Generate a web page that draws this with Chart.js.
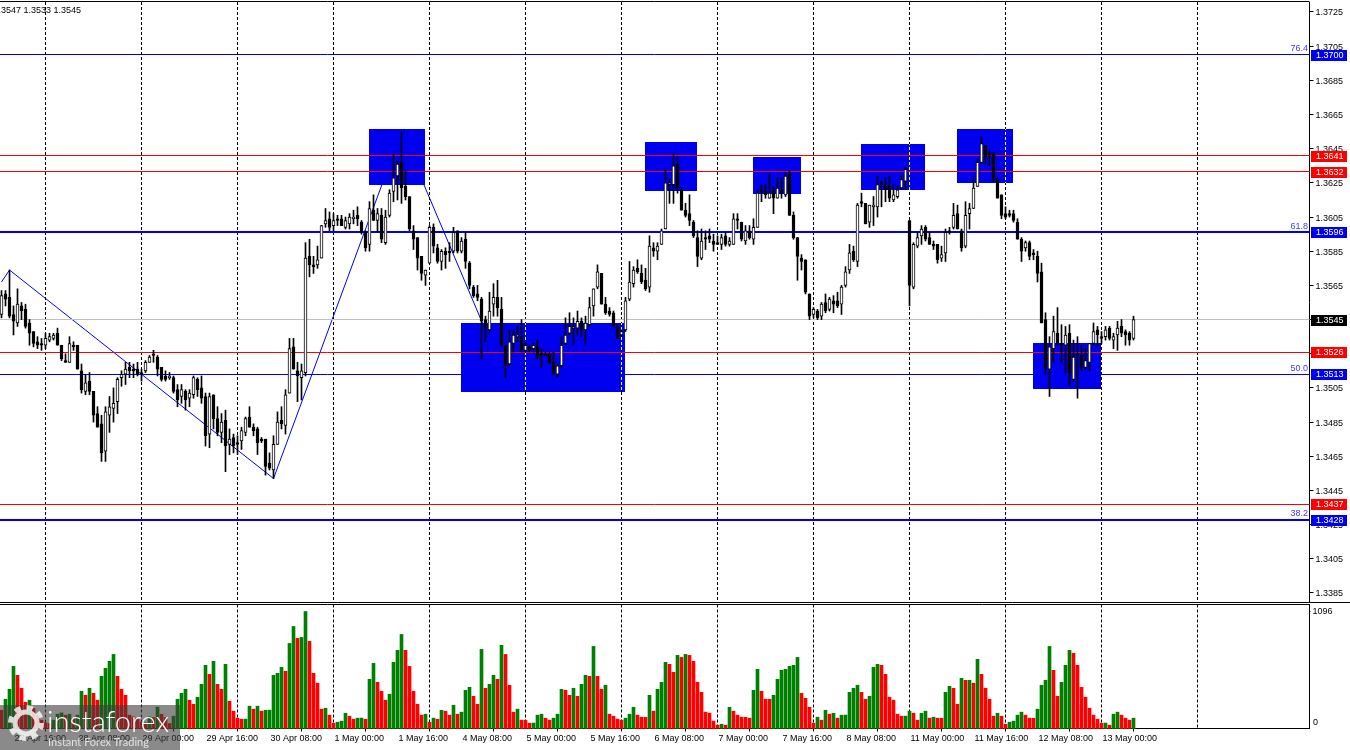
<!DOCTYPE html>
<html>
<head>
<meta charset="utf-8">
<title>GBP/USD H1</title>
<script src="https://cdn.jsdelivr.net/npm/chart.js@4"></script>
<style>
    html, body { margin: 0; padding: 0; background: #fff; overflow: hidden; }
    canvas { position: absolute; left: 0; }
    #price { top: 0; }
    #volume { top: 603px; }
    #logo {
        position: absolute; left: 0; top: 705px; width: 180px; height: 45px;
        background: rgba(60, 60, 60, 0.6); color: #fff; overflow: hidden;
        font-family: "Lato", "Open Sans", sans-serif;
    }
    #logo svg { position: absolute; left: 6px; top: -2px; opacity: 0.8; }
    #logo .big { position: absolute; left: 47px; top: -1px; font-size: 29px; font-weight: 300; line-height: 34px; }
    #logo .small { position: absolute; left: 48px; top: 30px; font-size: 11px; line-height: 14px; opacity: 0.75; }
</style>
</head>
<body>
<canvas id="price" width="1350" height="603"></canvas>
<canvas id="volume" width="1350" height="147"></canvas>
<div id="logo">
    <svg width="40" height="40" viewBox="0 0 40 40">
        <circle cx="20" cy="20" r="15" fill="none" stroke="#fff" stroke-width="6" stroke-dasharray="6 5.8"></circle>
        <circle cx="20" cy="20" r="11" fill="none" stroke="#fff" stroke-width="5"></circle>
    </svg>
    <div class="big">instaforex</div>
    <div class="small">Instant Forex Trading</div>
</div>
<script>
// Candles, one per bar from the left edge of the chart
const opens = [
    1.3548,1.3560,1.3558,1.3548,1.3543,1.3553,1.3551,1.3543,1.3538,1.3532,
    1.3531,1.3530,1.3533,1.3534,1.3537,1.3530,1.3521,1.3520,1.3530,1.3530,
    1.3515,1.3503,1.3509,1.3503,1.3490,1.3484,1.3468,1.3489,1.3493,1.3497,
    1.3511,1.3513,1.3517,1.3516,1.3516,1.3514,1.3515,1.3520,1.3525,1.3523,
    1.3517,1.3512,1.3511,1.3511,1.3504,1.3500,1.3503,1.3499,1.3501,1.3510,
    1.3505,1.3500,1.3478,1.3501,1.3487,1.3479,1.3486,1.3472,1.3476,1.3473,
    1.3474,1.3479,1.3488,1.3482,1.3481,1.3475,1.3475,1.3461,1.3457,1.3472,
    1.3486,1.3483,1.3502,1.3529,1.3515,1.3511,1.3514,1.3582,1.3577,1.3577,
    1.3581,1.3601,1.3604,1.3600,1.3604,
    1.3604,1.3599,1.3601,1.3604,1.3606,1.3602,1.3596,1.3589,1.3609,1.3603,
    1.3606,1.3590,1.3606,1.3620,1.3629,1.3637,1.3623,1.3617,1.3597,1.3593,
    1.3582,1.3571,1.3578,1.3599,1.3587,1.3579,1.3585,1.3585,1.3585,1.3597,
    1.3585,1.3592,1.3578,1.3564,1.3560,1.3557,1.3545,1.3539,1.3554,1.3558,
    1.3551,1.3530,1.3519,1.3531,1.3535,1.3535,1.3527,1.3529,1.3528,1.3529,
    1.3525,1.3525,1.3525,1.3520,1.3513,1.3518,1.3531,1.3537,1.3540,1.3540,
    1.3544,1.3539,1.3542,1.3553,1.3564,1.3572,1.3554,1.3550,1.3549,1.3541,
    1.3536,1.3539,1.3557,1.3566,1.3575,1.3572,1.3568,1.3564,1.3587,1.3585,
    1.3589,1.3598,1.3624,1.3624,1.3636,
    1.3621,1.3609,1.3607,1.3602,1.3593,1.3581,1.3593,1.3594,1.3591,1.3590,
    1.3589,1.3594,1.3589,1.3589,1.3604,1.3602,1.3591,1.3597,1.3592,1.3599,
    1.3621,1.3620,1.3616,1.3620,1.3616,1.3621,1.3618,1.3630,1.3606,1.3593,
    1.3581,1.3580,1.3560,1.3548,1.3550,1.3547,1.3555,1.3551,1.3556,1.3556,
    1.3554,1.3565,1.3574,1.3585,1.3579,1.3614,1.3613,1.3602,1.3611,1.3611,
    1.3625,1.3623,1.3623,1.3615,1.3617,1.3622,1.3626,1.3603,1.3564,1.3588,
    1.3594,1.3599,1.3593,1.3589,1.3589,1.3581,1.3584,1.3597,1.3599,1.3607,
    1.3597,1.3588,1.3607,1.3610,1.3623,1.3637,1.3647,1.3642,1.3642,1.3627,1.3618,
    1.3607,1.3607,1.3607,1.3602,1.3592,1.3587,1.3590,1.3584,1.3582,1.3573,
    1.3545,1.3516,1.3528,1.3537,1.3531,1.3530,1.3537,1.3510,1.3525,1.3524,
    1.3517,1.3520,1.3531,1.3539,1.3535,1.3535,1.3540,1.3533,1.3536,1.3541,
    1.3538,1.3537,1.3534
];
const highs = [
    1.3562,1.3562,1.3574,1.3553,1.3563,1.3555,1.3554,1.3545,1.3538,1.3535,
    1.3534,1.3537,1.3537,1.3537,1.3540,1.3530,1.3525,1.3535,1.3532,1.3530,
    1.3519,1.3513,1.3514,1.3503,1.3494,1.3489,1.3494,1.3500,1.3505,1.3511,
    1.3515,1.3520,1.3520,1.3519,1.3520,1.3516,1.3521,1.3524,1.3527,1.3524,
    1.3517,1.3515,1.3514,1.3512,1.3507,1.3507,1.3504,1.3504,1.3512,1.3511,
    1.3512,1.3502,1.3502,1.3501,1.3494,1.3490,1.3492,1.3481,1.3478,1.3477,
    1.3482,1.3488,1.3494,1.3484,1.3482,1.3476,1.3475,1.3467,1.3477,1.3491,
    1.3494,1.3504,1.3534,1.3534,1.3520,1.3519,1.3590,1.3592,1.3582,1.3588,
    1.3600,1.3610,1.3608,1.3607,1.3606,
    1.3606,1.3605,1.3607,1.3609,1.3611,1.3603,1.3597,1.3614,1.3618,1.3610,
    1.3610,1.3609,1.3621,1.3642,1.3638,1.3655,1.3632,1.3617,1.3600,1.3593,
    1.3582,1.3574,1.3600,1.3601,1.3589,1.3586,1.3587,1.3590,1.3599,1.3597,
    1.3593,1.3596,1.3579,1.3565,1.3565,1.3558,1.3547,1.3561,1.3566,1.3568,
    1.3558,1.3530,1.3539,1.3539,1.3541,1.3545,1.3532,1.3530,1.3531,1.3533,
    1.3528,1.3526,1.3526,1.3526,1.3519,1.3535,1.3546,1.3549,1.3546,1.3550,
    1.3546,1.3547,1.3558,1.3563,1.3577,1.3572,1.3558,1.3552,1.3550,1.3542,
    1.3539,1.3558,1.3579,1.3576,1.3580,1.3577,1.3575,1.3594,1.3590,1.3590,
    1.3598,1.3633,1.3627,1.3642,1.3640,
    1.3622,1.3613,1.3618,1.3603,1.3597,1.3598,1.3597,1.3598,1.3595,1.3594,
    1.3595,1.3596,1.3593,1.3607,1.3607,1.3602,1.3600,1.3600,1.3604,1.3621,
    1.3624,1.3624,1.3630,1.3623,1.3628,1.3628,1.3631,1.3632,1.3608,1.3593,
    1.3583,1.3580,1.3560,1.3552,1.3551,1.3555,1.3560,1.3558,1.3559,1.3561,
    1.3565,1.3576,1.3589,1.3588,1.3613,1.3619,1.3613,1.3612,1.3617,1.3629,
    1.3626,1.3628,1.3629,1.3624,1.3623,1.3629,1.3634,1.3603,1.3590,1.3596,
    1.3600,1.3600,1.3596,1.3591,1.3589,1.3588,1.3598,1.3599,1.3613,1.3612,
    1.3598,1.3614,1.3613,1.3628,1.3639,1.3652,1.3647,1.3644,1.3643,1.3628,1.3618,
    1.3611,1.3609,1.3609,1.3604,1.3593,1.3591,1.3591,1.3586,1.3585,1.3578,
    1.3549,1.3535,1.3547,1.3552,1.3542,1.3541,1.3542,1.3533,1.3535,1.3530,
    1.3528,1.3531,1.3543,1.3541,1.3538,1.3541,1.3541,1.3537,1.3544,1.3545,
    1.3539,1.3538,1.3547
];
const lows = [
    1.3546,1.3553,1.3546,1.3536,1.3541,1.3545,1.3540,1.3530,1.3529,1.3528,
    1.3527,1.3528,1.3532,1.3533,1.3530,1.3521,1.3520,1.3520,1.3527,1.3516,
    1.3502,1.3501,1.3501,1.3485,1.3482,1.3462,1.3462,1.3479,1.3485,1.3490,
    1.3506,1.3507,1.3511,1.3511,1.3512,1.3509,1.3514,1.3520,1.3520,1.3512,
    1.3509,1.3509,1.3510,1.3502,1.3494,1.3496,1.3492,1.3494,1.3499,1.3500,
    1.3496,1.3471,1.3470,1.3481,1.3477,1.3473,1.3456,1.3466,1.3467,1.3466,
    1.3469,1.3477,1.3482,1.3477,1.3466,1.3473,1.3454,1.3457,1.3452,1.3472,
    1.3481,1.3478,1.3502,1.3516,1.3497,1.3498,1.3512,1.3570,1.3572,1.3575,
    1.3581,1.3599,1.3597,1.3597,1.3600,
    1.3600,1.3598,1.3598,1.3601,1.3600,1.3595,1.3585,1.3585,1.3603,1.3596,
    1.3590,1.3589,1.3605,1.3614,1.3615,1.3613,1.3615,1.3597,1.3586,1.3574,
    1.3568,1.3565,1.3578,1.3584,1.3578,1.3574,1.3575,1.3579,1.3584,1.3584,
    1.3584,1.3575,1.3563,1.3558,1.3556,1.3522,1.3532,1.3537,1.3547,1.3547,
    1.3529,1.3511,1.3518,1.3526,1.3532,1.3526,1.3526,1.3526,1.3526,1.3522,
    1.3517,1.3524,1.3519,1.3513,1.3511,1.3517,1.3530,1.3536,1.3530,1.3536,
    1.3535,1.3530,1.3541,1.3547,1.3563,1.3554,1.3548,1.3547,1.3541,1.3534,
    1.3535,1.3538,1.3556,1.3564,1.3572,1.3566,1.3562,1.3561,1.3582,1.3580,
    1.3589,1.3598,1.3613,1.3613,1.3619,
    1.3609,1.3605,1.3600,1.3593,1.3576,1.3580,1.3586,1.3590,1.3585,1.3589,
    1.3586,1.3588,1.3588,1.3589,1.3598,1.3591,1.3589,1.3592,1.3589,1.3599,
    1.3614,1.3616,1.3616,1.3607,1.3616,1.3616,1.3617,1.3606,1.3592,1.3568,
    1.3574,1.3560,1.3545,1.3546,1.3545,1.3545,1.3549,1.3550,1.3549,1.3552,
    1.3548,1.3564,1.3572,1.3579,1.3576,1.3611,1.3601,1.3599,1.3600,1.3605,
    1.3611,1.3614,1.3614,1.3614,1.3616,1.3621,1.3621,1.3553,1.3563,1.3587,
    1.3589,1.3591,1.3589,1.3586,1.3578,1.3579,1.3579,1.3595,1.3598,1.3598,
    1.3585,1.3587,1.3598,1.3610,1.3623,1.3637,1.3636,1.3635,1.3626,1.3616,1.3604,
    1.3604,1.3605,1.3602,1.3592,1.3579,1.3585,1.3580,1.3580,1.3567,1.3543,
    1.3513,1.3500,1.3520,1.3530,1.3520,1.3514,1.3506,1.3509,1.3499,1.3515,
    1.3516,1.3515,1.3530,1.3529,1.3531,1.3533,1.3533,1.3528,1.3527,1.3535,
    1.3530,1.3530,1.3533
];
const closes = [
    1.3559,1.3557,1.3547,1.3544,1.3554,1.3550,1.3541,1.3537,1.3531,1.3530,
    1.3530,1.3534,1.3535,1.3536,1.3530,1.3522,1.3520,1.3531,1.3529,1.3516,
    1.3504,1.3508,1.3503,1.3489,1.3482,1.3467,1.3491,1.3494,1.3496,1.3510,
    1.3513,1.3516,1.3515,1.3515,1.3513,1.3513,1.3520,1.3523,1.3524,1.3516,
    1.3510,1.3510,1.3512,1.3503,1.3498,1.3504,1.3498,1.3502,1.3511,1.3504,
    1.3499,1.3477,1.3500,1.3487,1.3479,1.3485,1.3471,1.3475,1.3471,1.3472,
    1.3480,1.3487,1.3482,1.3480,1.3473,1.3474,1.3459,1.3458,1.3472,1.3485,
    1.3484,1.3501,1.3528,1.3516,1.3512,1.3515,1.3581,1.3577,1.3576,1.3580,
    1.3600,1.3603,1.3599,1.3603,1.3603,
    1.3600,1.3603,1.3605,1.3605,1.3604,1.3596,1.3587,1.3610,1.3603,1.3607,
    1.3592,1.3605,1.3619,1.3628,1.3636,1.3622,1.3617,1.3598,1.3592,1.3581,
    1.3572,1.3574,1.3599,1.3588,1.3579,1.3585,1.3583,1.3584,1.3596,1.3585,
    1.3591,1.3579,1.3565,1.3559,1.3558,1.3544,1.3540,1.3550,1.3558,1.3552,
    1.3530,1.3518,1.3532,1.3536,1.3536,1.3527,1.3530,1.3527,1.3530,1.3523,
    1.3524,1.3524,1.3520,1.3513,1.3518,1.3530,1.3536,1.3541,1.3541,1.3544,
    1.3539,1.3543,1.3552,1.3563,1.3573,1.3554,1.3549,1.3548,1.3541,1.3534,
    1.3538,1.3556,1.3567,1.3574,1.3573,1.3567,1.3563,1.3588,1.3585,1.3588,
    1.3597,1.3625,1.3625,1.3635,1.3622,
    1.3609,1.3606,1.3603,1.3594,1.3582,1.3591,1.3592,1.3592,1.3589,1.3589,
    1.3593,1.3589,1.3591,1.3604,1.3603,1.3592,1.3597,1.3593,1.3599,1.3619,
    1.3620,1.3618,1.3619,1.3616,1.3622,1.3619,1.3629,1.3606,1.3593,1.3582,
    1.3579,1.3561,1.3547,1.3551,1.3546,1.3554,1.3550,1.3557,1.3554,1.3553,
    1.3564,1.3573,1.3584,1.3580,1.3612,1.3613,1.3601,1.3612,1.3612,1.3624,
    1.3624,1.3621,1.3616,1.3618,1.3621,1.3627,1.3633,1.3565,1.3589,1.3593,
    1.3598,1.3592,1.3589,1.3588,1.3580,1.3583,1.3596,1.3596,1.3606,1.3598,
    1.3587,1.3606,1.3610,1.3622,1.3637,1.3648,1.3640,1.3641,1.3627,1.3616,1.3606,
    1.3605,1.3606,1.3603,1.3592,1.3585,1.3590,1.3582,1.3583,1.3572,1.3543,
    1.3517,1.3529,1.3538,1.3531,1.3530,1.3536,1.3514,1.3523,1.3524,1.3517,
    1.3521,1.3531,1.3538,1.3536,1.3534,1.3539,1.3534,1.3535,1.3540,1.3537,
    1.3536,1.3533,1.3545
];
const volumes = [
    171,274,367,582,498,377,246,265,187,125,
    78,53,47,78,134,146,125,134,93,125,
    349,311,377,330,265,489,564,629,694,489,
    367,311,125,109,93,62,53,109,103,199,
    134,103,47,115,274,330,367,265,227,293,
    414,592,508,629,414,367,601,255,162,97,
    87,88,209,181,209,162,171,172,498,517,
    573,536,797,956,844,853,1096,816,517,424,
    181,190,125,50,59,69,143,115,87,97,
    98,87,461,610,433,349,265,321,620,732,
    881,732,582,349,227,125,134,59,97,87,
    171,162,125,218,134,153,358,386,302,227,
    741,377,414,498,461,779,694,405,153,181,
    78,77,50,51,125,134,97,78,97,134,
    367,358,311,377,302,414,498,489,769,489,
    367,405,134,115,87,78,97,134,199,125,
    106,105,311,162,367,433,620,601,526,685,
    666,694,685,629,433,339,153,143,69,31,
    40,31,199,162,125,106,105,97,358,554,
    349,274,273,311,461,545,554,582,592,666,
    330,283,199,50,106,78,171,134,143,97,
    125,126,339,377,405,339,274,302,573,601,
    592,508,293,265,134,115,116,162,143,78,
    143,162,97,106,97,96,339,395,377,227,
    470,451,452,424,648,508,377,274,115,143,
    115,40,59,69,125,153,125,97,96,181,
    405,452,769,545,302,433,592,732,704,592,
    386,293,190,125,87,50,51,31,134,153,
    125,97,78,97
];

// Axes and markers
const barCount = 328;
const priceTicks = [1.3725,1.3705,1.3685,1.3665,1.3645,1.3625,1.3605,1.3585,1.3565,1.3545,1.3525,1.3505,1.3485,1.3465,1.3445,1.3425,1.3405,1.3385];
const timeTickBars = [3,19,35,51,67,83,99,115,131,147,163,179,195,211,227,243,259,275];
const timeTickLabels = ["27 Apr 16:00","28 Apr 08:00","29 Apr 00:00","29 Apr 16:00","30 Apr 08:00","1 May 00:00","1 May 16:00","4 May 08:00","5 May 00:00","5 May 16:00","6 May 08:00","7 May 00:00","7 May 16:00","8 May 08:00","11 May 00:00","11 May 16:00","12 May 08:00","13 May 00:00"];
const gridBars = [11,35,59,83,107,131,155,179,203,227,251,275,299];
const volumeTicks = [1096, 0];
const redLevels = [1.3641, 1.36316, 1.3526, 1.3437];
const fibLevels = [1.37, 1.3596, 1.3513, 1.3428];
const fibNames = ["76.4", "61.8", "50.0", "38.2"];
const lastPrice = 1.3545;
const ohlcHeader = "1.3547 1.3533 1.3545";
const zoneStart = [92, 115, 161, 188, 215, 239, 258];
const zoneEnd = [106, 156, 174, 200, 231, 253, 275];
const zoneTop = [1.36565, 1.3543, 1.36489, 1.36401, 1.36478, 1.36565, 1.35315];
const zoneBottom = [1.36238, 1.35026, 1.36204, 1.36185, 1.36208, 1.36251, 1.35046];
const waveBars = [0, 2, 68, 100, 126];
const wavePrices = [1.3567, 1.3574, 1.3452, 1.3655, 1.3511];

const BLUE = "#0000f0";
const RED = "#ff0000";
const AXIS_FONT = { family: "Liberation Sans", size: 9 };
const FONT_CSS = "9px 'Liberation Sans'";

const categories = [];
for (let i = 0; i < barCount; i++) categories.push("");
timeTickBars.forEach(function (bar, i) { categories[bar] = timeTickLabels[i]; });

function hLine(ctx, y, x1, x2, color, width) {
    const py = width === 1 ? Math.round(y - 0.5) + 0.5 : Math.round(y);
    ctx.strokeStyle = color;
    ctx.lineWidth = width;
    ctx.beginPath();
    ctx.moveTo(x1, py);
    ctx.lineTo(x2, py);
    ctx.stroke();
}

function strokeGrid(ctx, chart, color) {
    const x = chart.scales.x, area = chart.chartArea;
    ctx.strokeStyle = color;
    ctx.lineWidth = 1;
    ctx.setLineDash([3, 2]);
    gridBars.forEach(function (bar) {
        const px = x.getPixelForValue(bar);
        ctx.beginPath();
        ctx.moveTo(px, area.top);
        ctx.lineTo(px, area.bottom);
        ctx.stroke();
    });
    ctx.setLineDash([]);
}

// y axis must not push the plot area in for its first and last labels
function fitSideAxis(s) {
    s.width = 40.5;
    s.paddingTop = 0;
    s.paddingBottom = 0;
}

const pricePanel = {
    id: "pricePanel",
    beforeDatasetsDraw(chart) {
        const ctx = chart.ctx, x = chart.scales.x, y = chart.scales.y, area = chart.chartArea;
        ctx.save();

        // wave line sits under the zones
        ctx.strokeStyle = BLUE;
        ctx.lineWidth = 1;
        ctx.beginPath();
        waveBars.forEach(function (bar, i) {
            const px = x.getPixelForValue(bar), py = y.getPixelForValue(wavePrices[i]);
            if (i === 0) ctx.moveTo(px, py); else ctx.lineTo(px, py);
        });
        ctx.stroke();

        const boxes = zoneStart.map(function (bar, i) {
            const x1 = Math.floor(x.getPixelForValue(bar));
            const x2 = Math.floor(x.getPixelForValue(zoneEnd[i]));
            const y1 = Math.round(y.getPixelForValue(zoneTop[i]));
            const y2 = Math.round(y.getPixelForValue(zoneBottom[i]));
            return [x1, y1, x2 - x1, y2 - y1];
        });
        ctx.fillStyle = BLUE;
        boxes.forEach(function (b) { ctx.fillRect(b[0], b[1], b[2], b[3]); });

        strokeGrid(ctx, chart, "#000");
        // separators turn yellow where they cross a zone
        boxes.forEach(function (b) {
            ctx.save();
            ctx.beginPath();
            ctx.rect(b[0], b[1], b[2], b[3]);
            ctx.clip();
            strokeGrid(ctx, chart, "#ffff00");
            ctx.restore();
        });

        hLine(ctx, y.getPixelForValue(lastPrice), 0, area.right, "#c0c0c0", 1);
        redLevels.forEach(function (v) {
            hLine(ctx, y.getPixelForValue(v), 0, area.right, RED, 1);
        });
        fibLevels.forEach(function (v, i) {
            hLine(ctx, y.getPixelForValue(v), 0, area.right, BLUE, i % 2 ? 2 : 1);
        });
        ctx.restore();
    },
    afterDraw(chart) {
        const ctx = chart.ctx, y = chart.scales.y, area = chart.chartArea;
        ctx.save();
        hLine(ctx, 1.5, 0, area.right, "#000", 1);
        hLine(ctx, 602.5, 0, 1350, "#000", 1);

        ctx.font = FONT_CSS;
        ctx.textBaseline = "middle";

        ctx.fillStyle = "#000";
        ctx.textAlign = "right";
        ctx.fillText(ohlcHeader, 81, 11);

        ctx.fillStyle = "#3a3aff";
        fibLevels.forEach(function (v, i) {
            ctx.fillText(fibNames[i], 1308, y.getPixelForValue(v) - 6);
        });

        function tag(v, color) {
            const py = Math.round(y.getPixelForValue(v));
            ctx.fillStyle = color;
            ctx.fillRect(1311, py - 5, 36, 11);
            ctx.fillStyle = "#fff";
            ctx.textAlign = "left";
            ctx.fillText(v.toFixed(4), 1316, py + 1);
        }
        fibLevels.forEach(function (v) { tag(v, BLUE); });
        redLevels.forEach(function (v) { tag(v, RED); });
        tag(lastPrice, "#000");
        ctx.restore();
    }
};

const volumePanel = {
    id: "volumePanel",
    beforeDatasetsDraw(chart) {
        const ctx = chart.ctx;
        ctx.save();
        strokeGrid(ctx, chart, "#000");
        ctx.restore();
    },
    afterDraw(chart) {
        const ctx = chart.ctx, y = chart.scales.y;
        ctx.save();
        hLine(ctx, 1.5, 0, 1310, "#000", 1);
        ctx.font = FONT_CSS;
        ctx.fillStyle = "#000";
        ctx.textAlign = "left";
        ctx.textBaseline = "middle";
        // zero label is pushed up off the baseline, as in the terminal
        ctx.fillText(String(volumeTicks[1]), 1313, y.getPixelForValue(volumeTicks[1]) - 6);
        ctx.restore();
    }
};

new Chart(document.getElementById("price"), {
    type: "bar",
    plugins: [pricePanel],
    data: {
        labels: categories,
        datasets: [
            {
                data: opens.map(function (o, i) { return [o, closes[i]]; }),
                backgroundColor: opens.map(function (o, i) { return closes[i] >= o ? "#fff" : "#000"; }),
                borderColor: "#000",
                borderWidth: 1,
                borderSkipped: false,
                barThickness: 3,
                grouped: false,
                clip: false,
                order: 1,
            },
            {
                data: lows.map(function (l, i) { return [l, highs[i]]; }),
                backgroundColor: "#000",
                borderWidth: 0,
                barThickness: 1,
                grouped: false,
                clip: false,
                order: 2,
            },
        ],
    },
    options: {
        responsive: false,
        animation: false,
        layout: { padding: { left: 1.5, right: 0, top: 2, bottom: 1 } },
        plugins: { legend: { display: false }, tooltip: { enabled: false } },
        scales: {
            x: { display: false, offset: false },
            y: {
                position: "right",
                min: 1.337973,
                max: 1.373085,
                afterFit: fitSideAxis,
                afterBuildTicks(s) { s.ticks = priceTicks.map(function (v) { return { value: v }; }); },
                border: { display: true, color: "#000" },
                grid: { drawOnChartArea: false, tickLength: 4, tickColor: "#000" },
                ticks: {
                    color: "#000",
                    font: AXIS_FONT,
                    padding: 2,
                    labelOffset: 1,
                    callback(v) { return v.toFixed(4); },
                },
            },
        },
    },
});

new Chart(document.getElementById("volume"), {
    type: "bar",
    plugins: [volumePanel],
    data: {
        labels: categories,
        datasets: [
            {
                data: volumes,
                // terminal colours a bar by whether volume rose from the bar before
                backgroundColor: volumes.map(function (v, i) { return i > 0 && v > volumes[i - 1] ? "#008000" : RED; }),
                borderWidth: 0,
                barThickness: 3,
                clip: false,
            },
        ],
    },
    options: {
        responsive: false,
        animation: false,
        layout: { padding: { left: 1.5, right: 0, top: 1.5, bottom: 0 } },
        plugins: { legend: { display: false }, tooltip: { enabled: false } },
        scales: {
            x: {
                offset: false,
                afterFit(s) {
                    s.height = 21.5;
                    s.paddingLeft = 0;
                    s.paddingRight = 0;
                },
                border: { display: true, color: "#000" },
                grid: { drawOnChartArea: false, tickLength: 3, tickColor: "#000" },
                ticks: {
                    color: "#000",
                    font: AXIS_FONT,
                    autoSkip: false,
                    maxRotation: 0,
                    minRotation: 0,
                    align: "start",
                    labelOffset: 1,
                    padding: 2,
                    callback(v, i) { return categories[i] || null; },
                },
            },
            y: {
                position: "right",
                min: 0,
                max: 1161.6,
                afterFit: fitSideAxis,
                afterBuildTicks(s) { s.ticks = [{ value: volumeTicks[0] }]; },
                border: { display: true, color: "#000" },
                grid: { drawOnChartArea: false, tickLength: 1, tickColor: "#000" },
                ticks: {
                    color: "#000",
                    font: AXIS_FONT,
                    padding: 2,
                    callback(v) { return String(v); },
                },
            },
        },
    },
});
</script>
</body>
</html>
